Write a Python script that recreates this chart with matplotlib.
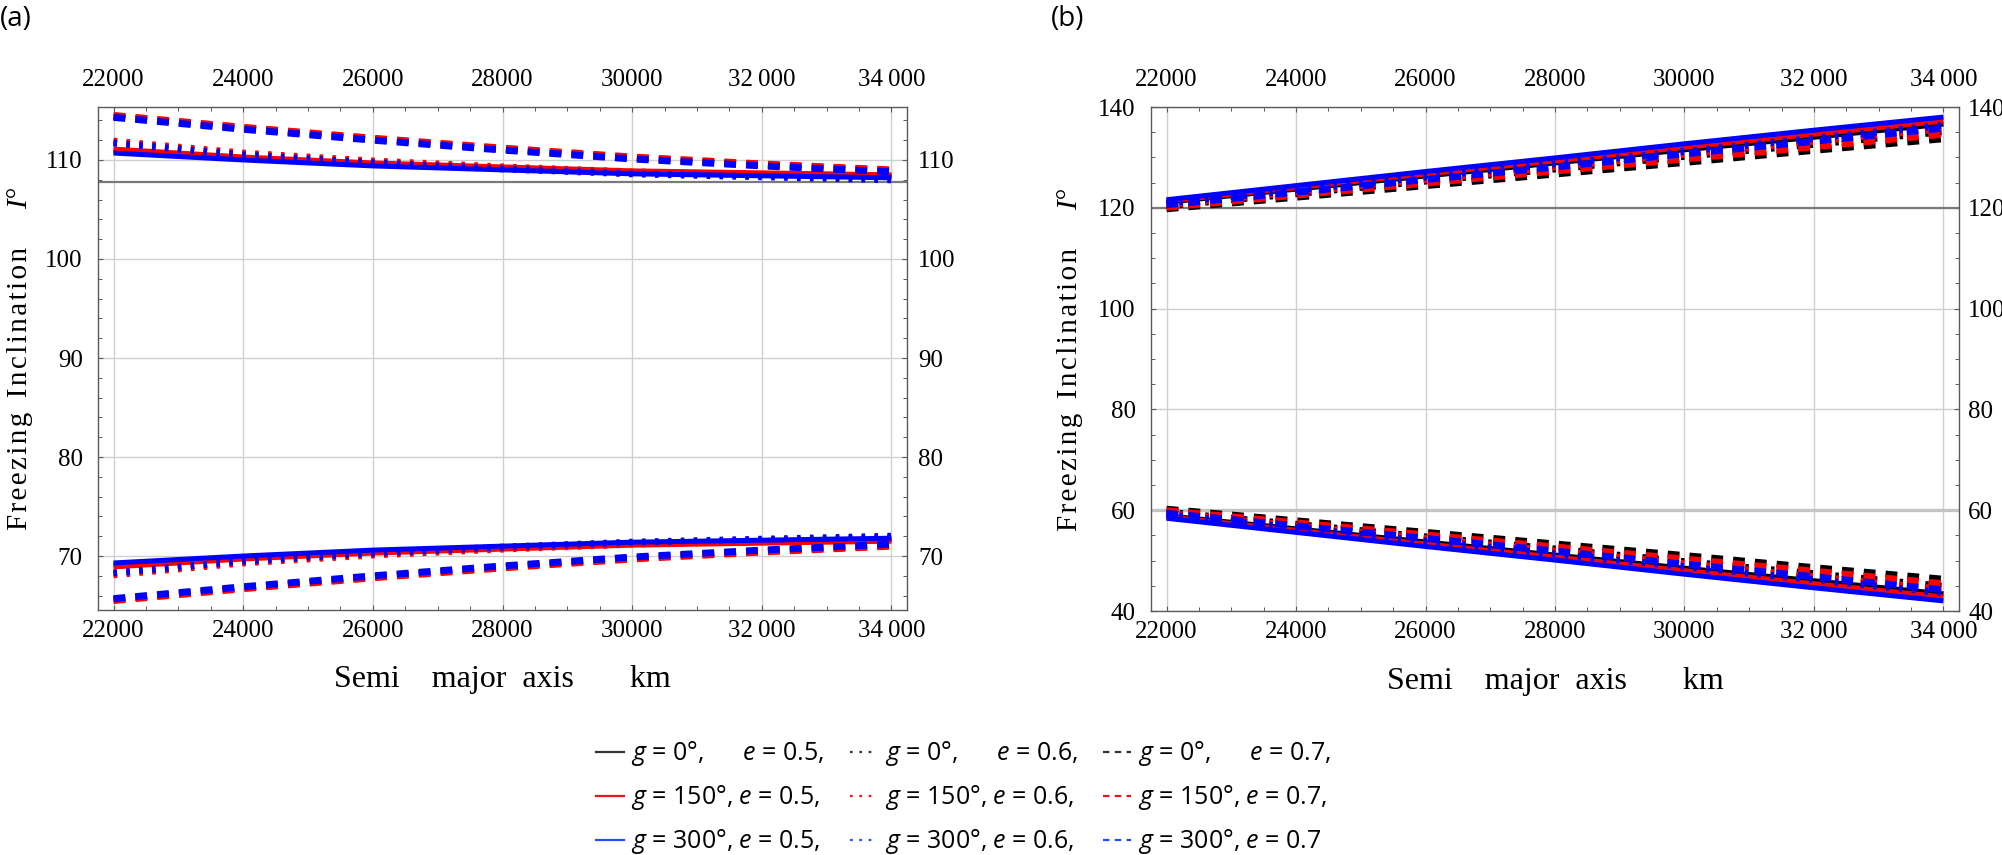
import matplotlib
matplotlib.use("Agg")
import matplotlib.pyplot as plt
from matplotlib.lines import Line2D
from matplotlib.ticker import MultipleLocator

plt.rcParams['font.family'] = ["Liberation Serif", "DejaVu Serif"]
plt.rcParams['mathtext.fontset'] = 'custom'
plt.rcParams['mathtext.it'] = 'Open Sans:italic'
plt.rcParams['mathtext.rm'] = 'Open Sans'

# ---------------- data ----------------
semi_major_km = [22000, 24000, 26000, 28000, 30000, 32000, 34000]
x_tick_values = [22000, 24000, 26000, 28000, 30000, 32000, 34000]
x_tick_labels = ["22000", "24000", "26000", "28000", "30000", "32\u2009000", "34\u2009000"]
a_y_ticks = [70, 80, 90, 100, 110]
b_y_ticks = [40, 60, 80, 100, 120, 140]
a_ref_line = 107.8
b_ref_lines = [120, 60]

g_values = [0, 150, 300]
e_values = [0.5, 0.6, 0.7]

# Panel (a) upper branch
a_up_g0_e05 = [110.9, 110.15, 109.55, 109.15, 108.75, 108.55, 108.35]
a_up_g150_e05 = [111.1, 110.3, 109.7, 109.3, 108.9, 108.7, 108.5]
a_up_g300_e05 = [110.7, 110.0, 109.4, 109.0, 108.6, 108.4, 108.2]
a_up_g0_e06 = [111.8, 110.6, 109.8, 109.2, 108.7, 108.4, 108.1]
a_up_g150_e06 = [111.9, 110.7, 109.9, 109.3, 108.8, 108.5, 108.2]
a_up_g300_e06 = [111.7, 110.5, 109.7, 109.1, 108.6, 108.3, 108.0]
a_up_g0_e07 = [114.4, 113.2, 112.1, 111.1, 110.2, 109.5, 108.9]
a_up_g150_e07 = [114.5, 113.3, 112.2, 111.2, 110.3, 109.6, 109.0]
a_up_g300_e07 = [114.3, 113.1, 112.0, 111.0, 110.1, 109.4, 108.8]
# Panel (a) lower branch
a_lo_g0_e05 = [69.1, 69.85, 70.45, 70.85, 71.25, 71.45, 71.65]
a_lo_g150_e05 = [68.9, 69.7, 70.3, 70.7, 71.1, 71.3, 71.5]
a_lo_g300_e05 = [69.3, 70.0, 70.6, 71.0, 71.4, 71.6, 71.8]
a_lo_g0_e06 = [68.2, 69.4, 70.2, 70.8, 71.3, 71.6, 71.9]
a_lo_g150_e06 = [68.1, 69.3, 70.1, 70.7, 71.2, 71.5, 71.8]
a_lo_g300_e06 = [68.3, 69.5, 70.3, 70.9, 71.4, 71.7, 72.0]
a_lo_g0_e07 = [65.6, 66.8, 67.9, 68.9, 69.8, 70.5, 71.1]
a_lo_g150_e07 = [65.5, 66.7, 67.8, 68.8, 69.7, 70.4, 71.0]
a_lo_g300_e07 = [65.7, 66.9, 68.0, 69.0, 69.9, 70.6, 71.2]

# Panel (b) upper branch
b_up_g0_e05 = [121.1, 123.7, 126.3, 128.9, 131.5, 134.0, 136.6]
b_up_g150_e05 = [121.3, 124.0, 126.7, 129.3, 132.0, 134.6, 137.2]
b_up_g300_e05 = [121.6, 124.4, 127.2, 129.9, 132.7, 135.4, 138.0]
b_up_g0_e06 = [120.4, 122.8, 125.3, 127.7, 130.2, 132.6, 135.1]
b_up_g150_e06 = [120.6, 123.1, 125.6, 128.1, 130.6, 133.2, 135.7]
b_up_g300_e06 = [120.9, 123.5, 126.1, 128.7, 131.2, 133.8, 136.4]
b_up_g0_e07 = [119.8, 122.1, 124.4, 126.7, 129.0, 131.4, 133.7]
b_up_g150_e07 = [120.1, 122.5, 124.9, 127.3, 129.7, 132.1, 134.6]
b_up_g300_e07 = [120.6, 123.1, 125.6, 128.1, 130.7, 133.2, 135.8]
# Panel (b) lower branch
b_lo_g0_e05 = [58.9, 56.3, 53.7, 51.1, 48.5, 46.0, 43.4]
b_lo_g150_e05 = [58.7, 56.0, 53.3, 50.7, 48.0, 45.4, 42.8]
b_lo_g300_e05 = [58.4, 55.6, 52.8, 50.1, 47.3, 44.6, 42.0]
b_lo_g0_e06 = [59.6, 57.2, 54.7, 52.3, 49.8, 47.4, 44.9]
b_lo_g150_e06 = [59.4, 56.9, 54.4, 51.9, 49.4, 46.8, 44.3]
b_lo_g300_e06 = [59.1, 56.5, 53.9, 51.3, 48.8, 46.2, 43.6]
b_lo_g0_e07 = [60.2, 57.9, 55.6, 53.3, 51.0, 48.6, 46.3]
b_lo_g150_e07 = [59.9, 57.5, 55.1, 52.7, 50.3, 47.9, 45.4]
b_lo_g300_e07 = [59.4, 56.9, 54.4, 51.9, 49.3, 46.8, 44.2]

panel_a_curves = {
    (0, 0.5): (a_up_g0_e05, a_lo_g0_e05), (0, 0.6): (a_up_g0_e06, a_lo_g0_e06),
    (0, 0.7): (a_up_g0_e07, a_lo_g0_e07),
    (150, 0.5): (a_up_g150_e05, a_lo_g150_e05), (150, 0.6): (a_up_g150_e06, a_lo_g150_e06),
    (150, 0.7): (a_up_g150_e07, a_lo_g150_e07),
    (300, 0.5): (a_up_g300_e05, a_lo_g300_e05), (300, 0.6): (a_up_g300_e06, a_lo_g300_e06),
    (300, 0.7): (a_up_g300_e07, a_lo_g300_e07),
}
panel_b_curves = {
    (0, 0.5): (b_up_g0_e05, b_lo_g0_e05), (0, 0.6): (b_up_g0_e06, b_lo_g0_e06),
    (0, 0.7): (b_up_g0_e07, b_lo_g0_e07),
    (150, 0.5): (b_up_g150_e05, b_lo_g150_e05), (150, 0.6): (b_up_g150_e06, b_lo_g150_e06),
    (150, 0.7): (b_up_g150_e07, b_lo_g150_e07),
    (300, 0.5): (b_up_g300_e05, b_lo_g300_e05), (300, 0.6): (b_up_g300_e06, b_lo_g300_e06),
    (300, 0.7): (b_up_g300_e07, b_lo_g300_e07),
}

# ---------------- styles ----------------
curve_colors = {0: "#000000", 150: "#ff0000", 300: "#0000ff"}
legend_colors = {0: "#333333", 150: "#e8141c", 300: "#1f4fff"}
curve_styles = {
    0.5: dict(linestyle="-", linewidth=3.6),
    0.6: dict(linestyle=(0, (0.5, 1.36)), linewidth=5.0),
    0.7: dict(linestyle=(0, (1.7, 1.45)), linewidth=5.0),
}
legend_styles = {0.5: "-", 0.6: (0, (1.2, 3.0)), 0.7: (0, (2.9, 2.4))}

serif = ["Liberation Serif", "DejaVu Serif"]
tick_fs = 18

fig = plt.figure(figsize=(20.02, 8.55), dpi=100)
ax_a = fig.add_axes([98 / 2002, 1 - 610 / 855, 809 / 2002, 503 / 855])
ax_b = fig.add_axes([1151 / 2002, 1 - 611 / 855, 808 / 2002, 504 / 855])


def style_axes(ax, ylim, yticks, yminor, right_pad):
    ax.set_xlim(21760, 34240)
    ax.set_ylim(*ylim)
    ax.set_xticks(x_tick_values)
    ax.set_xticklabels(x_tick_labels, fontfamily=serif, fontsize=tick_fs)
    ax.set_yticks(yticks)
    ax.set_yticklabels([str(v) for v in yticks], fontfamily=serif, fontsize=tick_fs)
    ax.xaxis.set_minor_locator(MultipleLocator(500))
    ax.yaxis.set_minor_locator(MultipleLocator(yminor))
    ax.grid(which="major", color="#cfcfcf", linewidth=1.0)
    ax.set_axisbelow(True)
    for s in ax.spines.values():
        s.set_color("#5a5a5a")
        s.set_linewidth(1.0)
    ax.tick_params(which="both", direction="in", top=True, right=True,
                   colors="#5a5a5a", labelcolor="black")
    ax.tick_params(which="major", length=3.5, width=0.8)
    ax.tick_params(which="minor", length=3.0, width=0.7)
    ax.tick_params(axis="x", pad=7)
    ax.tick_params(axis="y", pad=11)
    top = ax.secondary_xaxis("top")
    top.set_xticks(x_tick_values)
    top.set_xticklabels(x_tick_labels, fontfamily=serif, fontsize=tick_fs)
    top.tick_params(length=0, pad=11.5)
    top.spines["top"].set_visible(False)
    right = ax.secondary_yaxis("right")
    right.set_yticks(yticks)
    right.set_yticklabels([str(v) for v in yticks], fontfamily=serif, fontsize=tick_fs)
    right.tick_params(length=0, pad=right_pad)
    right.spines["right"].set_visible(False)


def draw_curves(ax, curves):
    for g in g_values:
        for e in e_values:
            up, lo = curves[(g, e)]
            for branch in (up, lo):
                ax.plot(semi_major_km, branch, color=curve_colors[g],
                        solid_capstyle="butt", dash_capstyle="butt",
                        **curve_styles[e], zorder=3)


style_axes(ax_a, (64.55, 115.35), a_y_ticks, 2, 8)
style_axes(ax_b, (40, 140), b_y_ticks, 5, 6.5)

ax_a.axhline(a_ref_line, color="#7a7a7a", linewidth=1.6, zorder=2)
ax_b.axhline(b_ref_lines[0], color="#7a7a7a", linewidth=1.6, zorder=2)
ax_b.axhline(b_ref_lines[1], color="#c4c4c4", linewidth=2.4, zorder=2)

draw_curves(ax_a, panel_a_curves)
draw_curves(ax_b, panel_b_curves)

hair = "\u200a"
ylab = hair.join("Freezing") + "  " + hair.join("Inclination")
xlab = "Semi    major  axis       km"
ylabel_texts = []
for ax, xoff in ((ax_a, -0.0964), (ax_b, -0.100)):
    t = ax.text(xoff, (610 - 530) / 503, ylab, rotation=90, ha="center", va="bottom",
                fontfamily=serif, fontsize=21, transform=ax.transAxes)
    ylabel_texts.append((ax, xoff, t))
    ax.text(0.5, -0.139, xlab, ha="center", va="center",
            fontfamily=serif, fontsize=23, transform=ax.transAxes)

# place the italic I° above the rotated label, with the reference's gap
fig.canvas.draw()
renderer = fig.canvas.get_renderer()
for ax, xoff, t in ylabel_texts:
    bb = t.get_window_extent(renderer)
    y_disp = bb.y1 + 38
    y_ax = ax.transAxes.inverted().transform((0, y_disp))[1]
    ax.text(xoff, y_ax, "I°", rotation=90, ha="center", va="bottom",
            fontfamily=serif, fontstyle="italic", fontsize=21, transform=ax.transAxes)

fig.text(0.0, 1 - 19 / 855, "(a)", fontsize=20, fontfamily="Open Sans",
         ha="left", va="center")
fig.text(1051 / 2002, 1 - 19 / 855, "(b)", fontsize=20, fontfamily="Open Sans",
         ha="left", va="center")

# legend (column-major: one column per e value)
handles, labels = [], []
for e in e_values:
    for g in g_values:
        handles.append(Line2D([0], [0], color=legend_colors[g],
                              linestyle=legend_styles[e], linewidth=1.6))
        gtxt = f"$g$ = {g}°,"
        if g == 0:
            gtxt += "     "
        etxt = f" $e$ = {e}"
        if not (g == 300 and e == 0.7):
            etxt += ","
        labels.append(gtxt + etxt)

fig.legend(handles, labels, ncol=3, loc="center",
           bbox_to_anchor=(0.4815, 0.0667), frameon=False,
           prop={"family": "Open Sans", "size": 18},
           handlelength=1.1, handletextpad=0.3, columnspacing=1.0,
           labelspacing=0.6, borderpad=0)

fig.savefig("out.png", dpi=100)
